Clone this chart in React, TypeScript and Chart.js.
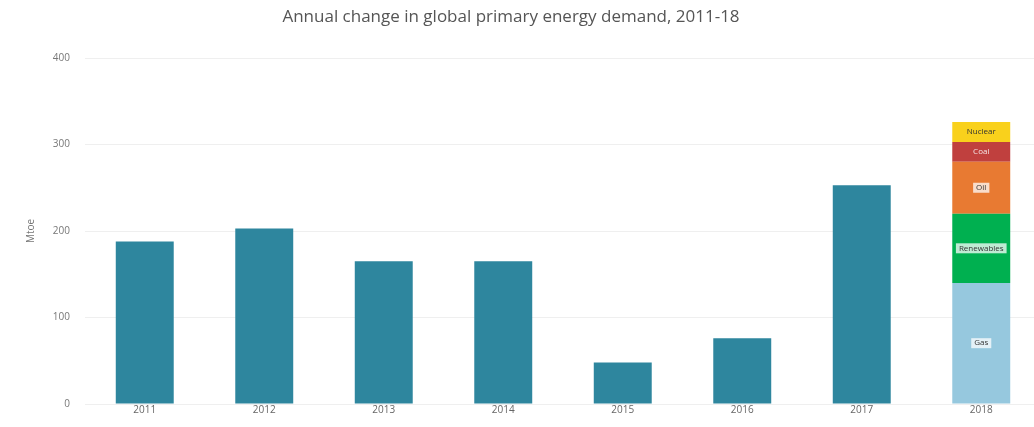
import React, { useEffect, useRef } from "react";
import { Chart, registerables } from "chart.js";

Chart.register(...registerables);

// Years on the x axis
const years = ["2011", "2012", "2013", "2014", "2015", "2016", "2017", "2018"];
// Total annual change (Mtoe) for 2011-2017
const totalChange = [188, 203, 165, 165, 48, 76, 253, null];
// 2018 breakdown by fuel (Mtoe)
const fuelNames = ["Gas", "Renewables", "Oil", "Coal", "Nuclear"];
const fuel2018 = [140, 80, 60, 23, 23];
const fuelColors = ["#96c8de", "#00b050", "#e87a32", "#c0403e", "#f9d11c"];
const yTicks = [0, 100, 200, 300, 400];

const TITLE = "Annual change in global primary energy demand, 2011-18";
const FONT = "'Open Sans', 'Noto Sans', sans-serif";

export default function App() {
  const canvasRef = useRef<HTMLCanvasElement | null>(null);

  useEffect(() => {
    document.body.style.margin = "0";
    const canvas = canvasRef.current;
    if (!canvas) return;

    const datasets: any[] = [
      {
        label: "Total",
        data: totalChange,
        backgroundColor: "#2e869e",
        stack: "s",
      },
      ...fuelNames.map((name, i) => ({
        label: name,
        data: years.map((y) => (y === "2018" ? fuel2018[i] : null)),
        backgroundColor: fuelColors[i],
        stack: "s",
      })),
    ];

    const titlePlugin = {
      id: "topTitle",
      afterDraw(chart: any) {
        const ctx = chart.ctx;
        ctx.save();
        ctx.font = `17px ${FONT}`;
        ctx.fillStyle = "#555";
        ctx.textAlign = "center";
        ctx.textBaseline = "middle";
        ctx.fillText(TITLE, 511, 17);
        ctx.restore();
      },
    };

    // Fuel names written inside each 2018 segment
    const segmentLabels = {
      id: "segmentLabels",
      afterDatasetsDraw(chart: any) {
        const ctx = chart.ctx;
        ctx.save();
        ctx.font = `8px ${FONT}`;
        ctx.textAlign = "center";
        ctx.textBaseline = "middle";
        const idx = years.indexOf("2018");
        fuelNames.forEach((name, i) => {
          const meta = chart.getDatasetMeta(i + 1);
          const el = meta.data[idx];
          if (!el) return;
          const cx = el.x;
          const cy = (el.y + el.base) / 2;
          const w = ctx.measureText(name).width + 6;
          const boxed = name !== "Coal" && name !== "Nuclear";
          if (boxed) {
            ctx.fillStyle = "rgba(255,255,255,0.75)";
            ctx.fillRect(cx - w / 2, cy - 5, w, 10);
          }
          ctx.fillStyle = name === "Coal" ? "#f4e4e4" : "#333";
          ctx.fillText(name, cx, cy);
        });
        ctx.restore();
      },
    };

    const chart = new Chart(canvas, {
      type: "bar",
      data: { labels: years, datasets },
      plugins: [titlePlugin, segmentLabels],
      options: {
        animation: false,
        responsive: false,
        maintainAspectRatio: false,
        layout: { padding: { top: 58, left: 0, right: 0, bottom: 0 } },
        plugins: {
          legend: { display: false },
          tooltip: { enabled: false },
          title: { display: false },
        },
        datasets: {
          bar: { categoryPercentage: 1, barPercentage: 0.485 },
        },
        scales: {
          x: {
            stacked: true,
            grid: { display: false, drawTicks: false },
            border: { display: false },
            ticks: {
              color: "#666",
              font: { family: FONT, size: 10 },
              padding: 0,
              maxRotation: 0,
            },
            afterFit(scale: any) {
              scale.height = 23;
            },
          },
          y: {
            stacked: true,
            min: 0,
            max: 400,
            afterBuildTicks(scale: any) {
              scale.ticks = yTicks.map((v) => ({ value: v }));
            },
            grid: { color: "#efefef", drawTicks: false, lineWidth: 1 },
            border: { display: false },
            ticks: {
              color: "#777",
              font: { family: FONT, size: 10 },
              padding: 15,
            },
            title: {
              display: true,
              text: "Mtoe",
              color: "#777",
              font: { family: FONT, size: 10 },
              padding: { top: 25, bottom: 0 },
            },
            afterFit(scale: any) {
              scale.width = 85;
            },
          },
        },
      },
    });

    return () => chart.destroy();
  }, []);

  return (
    <div
      style={{
        position: "absolute",
        left: 0,
        top: 0,
        width: 1034,
        height: 427,
        overflow: "hidden",
        background: "#fff",
      }}
    >
      <canvas
        ref={canvasRef}
        width={1041}
        height={427}
        style={{ width: 1041, height: 427, display: "block" }}
      />
    </div>
  );
}
